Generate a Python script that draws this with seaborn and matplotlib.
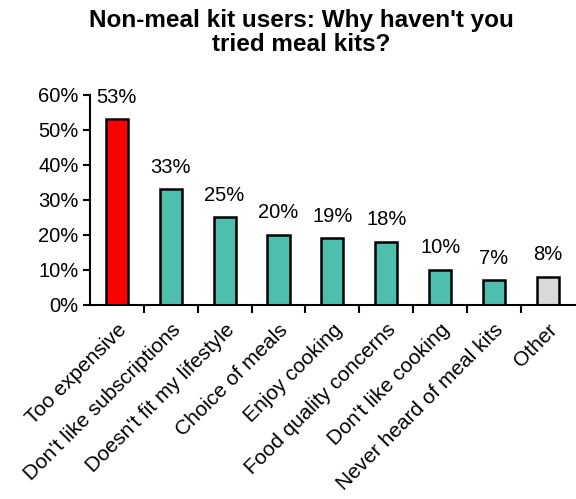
import numpy as np
import pandas as pd
import matplotlib as mpl
import matplotlib.pyplot as plt
from matplotlib.ticker import PercentFormatter, FixedLocator
import seaborn as sns

sns.set_style("white")
plt.rcParams['font.family'] = ['Liberation Sans', 'DejaVu Sans']
plt.rcParams['text.color'] = 'black'
plt.rcParams['xtick.color'] = 'black'
plt.rcParams['ytick.color'] = 'black'

# data
reasons = ["Too expensive", "Don't like subscriptions", "Doesn't fit my lifestyle",
           "Choice of meals", "Enjoy cooking", "Food quality concerns",
           "Don't like cooking", "Never heard of meal kits", "Other"]
shares = [53, 33, 25, 20, 19, 18, 10, 7, 8]
colors = ["#ff0000"] + ["#4fbfad"] * 7 + ["#d9d9d9"]

df = pd.DataFrame({"reason": reasons, "share": shares})

fig = plt.figure(figsize=(5.76, 4.99), dpi=100)
ax = fig.add_axes([0.156, 0.389, 0.842, 0.421])

sns.barplot(data=df, x="reason", y="share", hue="reason", palette=colors,
            saturation=1, legend=False, width=0.41, edgecolor="black",
            linewidth=1.8, ax=ax)

for p, v in zip(ax.patches, shares):
    ax.annotate(f"{v}%", (p.get_x() + p.get_width() / 2, p.get_height()),
                xytext=(0, 9), textcoords="offset points",
                ha="center", va="bottom", fontsize=14.5)

ax.set_ylim(0, 60)
ax.set_xlim(-0.5, len(reasons) - 0.5)
ax.set_yticks(range(0, 61, 10))
ax.yaxis.set_major_formatter(PercentFormatter(decimals=0))
ax.tick_params(axis="y", labelsize=14.5, length=5, width=1.5, direction="out",
               left=True, pad=3)

ax.set_xticks(range(len(reasons)))
ax.set_xticklabels(reasons, rotation=45, ha="right", rotation_mode="anchor", fontsize=15)
ax.xaxis.set_minor_locator(FixedLocator(np.arange(0.5, len(reasons) - 0.5, 1)))
ax.tick_params(axis="x", which="major", length=0, pad=11)
ax.tick_params(axis="x", which="minor", length=6, width=1.5, direction="out", bottom=True)

ax.set_xlabel("")
ax.set_ylabel("")
for s in ["top", "right"]:
    ax.spines[s].set_visible(False)
for s in ["left", "bottom"]:
    ax.spines[s].set_color("black")
    ax.spines[s].set_linewidth(1.5)

fig.suptitle("Non-meal kit users: Why haven't you\ntried meal kits?",
             fontsize=17.5, fontweight="bold", x=0.523, y=0.982,
             linespacing=1.08)

fig.savefig("out.png", dpi=100)
